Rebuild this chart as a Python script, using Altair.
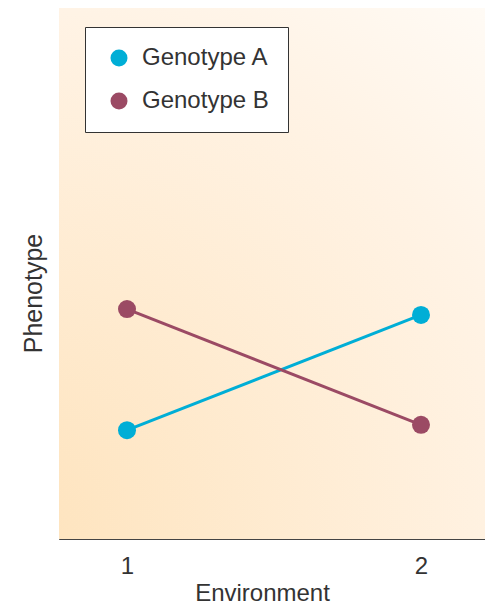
import altair as alt
import pandas as pd

genotypes = ["Genotype A", "Genotype A", "Genotype B", "Genotype B"]
environment = [1, 2, 1, 2]
phenotype = [2.05, 4.22, 4.33, 2.15]
colors = ["#00AED6", "#9B4A64"]

df = pd.DataFrame({"Genotype": genotypes, "Environment": environment, "Phenotype": phenotype})

W, H = 426, 531
FONT = "Liberation Sans"

bg = alt.Chart(pd.DataFrame({"a": [0]})).mark_rect(
    fill=alt.RadialGradient(
        gradient="radial", x1=0, y1=1, r1=0, x2=0, y2=1, r2=1.45,
        stops=[alt.GradientStop(offset=0, color="#FEE3BC"),
               alt.GradientStop(offset=0.69, color="#FFF3E5"),
               alt.GradientStop(offset=1, color="#FFFDFA")]),
    stroke=None,
).encode(x=alt.value(0), x2=alt.value(W), y=alt.value(0), y2=alt.value(H))

xs = alt.Scale(domain=[0.7687, 2.2177], nice=False, zero=False)
ys = alt.Scale(domain=[0, 10], nice=False)
col = alt.Color("Genotype:N", scale=alt.Scale(domain=["Genotype A", "Genotype B"], range=colors),
                legend=alt.Legend(orient="none", legendX=26, legendY=19, title=None,
                                  fillColor="white", strokeColor="#333", padding=19,
                                  symbolType="circle", symbolSize=289, symbolStrokeWidth=0,
                                  labelFontSize=24, labelFont=FONT, labelColor="#333",
                                  rowPadding=19, labelOffset=11, symbolOffset=3))

xaxis = alt.Axis(values=[1, 2], format="d", ticks=False, grid=False, domainColor="#444",
                 labelFontSize=24, labelFont=FONT, labelColor="#333", labelPadding=15,
                 title="Environment", titleFontSize=24, titleFont=FONT, titleFontWeight="normal",
                 titleColor="#333", titleX=203, titleY=61, titleAlign="center",
                 titleBaseline="alphabetic")
yaxis = alt.Axis(labels=False, ticks=False, grid=False, domainColor="#444",
                 title="Phenotype", titleFontSize=25, titleFont=FONT, titleFontWeight="normal",
                 titleColor="#333", titleX=-26, titleY=285, titleAlign="center", titleAngle=-90,
                 titleBaseline="middle")

base = alt.Chart(df).encode(
    x=alt.X("Environment:Q", scale=xs, axis=xaxis),
    y=alt.Y("Phenotype:Q", scale=ys, axis=yaxis),
    color=col,
)
lines = base.mark_line(strokeWidth=3)
pts = base.mark_circle(size=324, opacity=1)

chart = alt.layer(bg, lines, pts).properties(
    width=W, height=H,
    autosize=alt.AutoSizeParams(type="none"),
    padding={"left": 51, "top": 0, "right": 0, "bottom": 67},
).configure_view(stroke=None).configure(background="white")

chart.save("out.html", embed_options={"renderer": "svg", "actions": False})
